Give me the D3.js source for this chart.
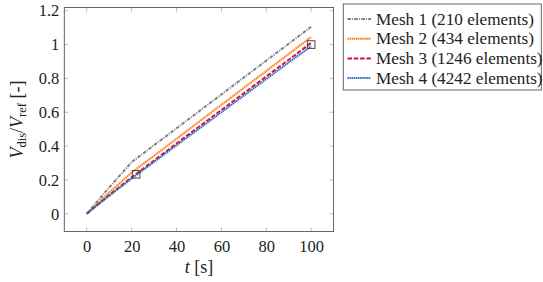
<!DOCTYPE html>
<html><head><meta charset="utf-8">
<script src="https://cdn.jsdelivr.net/npm/d3@7/dist/d3.min.js"></script>
<style>body{margin:0;background:#fff}svg{display:block}
svg text{font-family:"Liberation Serif","Times New Roman",Times,"DejaVu Serif",serif;}
</style>
</head><body><svg id="c" width="543" height="282"></svg>
<script>
const tValues = [0, 10, 20, 30, 40, 50, 60, 70, 80, 90, 100];
const mesh1 = [0, 0.155, 0.305, 0.405, 0.505, 0.605, 0.705, 0.805, 0.905, 1.005, 1.105];
const mesh2 = [0, 0.125, 0.243, 0.343, 0.443, 0.544, 0.644, 0.744, 0.844, 0.944, 1.045];
const mesh3 = [0, 0.11, 0.215, 0.315, 0.415, 0.514, 0.613, 0.712, 0.811, 0.91, 1.01];
const mesh4 = [0, 0.106, 0.208, 0.306, 0.404, 0.502, 0.6, 0.698, 0.796, 0.894, 0.99];
const seriesNames = ["Mesh 1 (210 elements)", "Mesh 2 (434 elements)", "Mesh 3 (1246 elements)", "Mesh 4 (4242 elements)"];
const markerT = [22, 100];
const markerV = [0.233, 1.0];
const xTicks = [0, 20, 40, 60, 80, 100];
const yTicks = [0, 0.2, 0.4, 0.6, 0.8, 1, 1.2];

const styles = [
  {color: "#808080", dash: "3.5,1.2,1,1.2"},
  {color: "#ff7a10", dash: "1.5,0.6"},
  {color: "#d4103c", dash: "4.5,1.8"},
  {color: "#2a6fc0", dash: "1.5,0.6"}
];
const allSeries = [mesh1, mesh2, mesh3, mesh4];

const svg = d3.select("#c");
const L = 64.3, R = 333.6, T = 7.5, B = 231.5;
const x = d3.scaleLinear().domain([-10, 110]).range([L, R]);
const y = d3.scaleLinear().domain([-0.105, 1.219]).range([B, T]);
const font = '"Liberation Serif","Times New Roman",Times,"DejaVu Serif",serif';

const tickLen = 4;
const g = svg.append("g");
xTicks.forEach(v => {
  g.append("line").attr("x1", x(v)).attr("x2", x(v)).attr("y1", B).attr("y2", B - tickLen).attr("stroke", "#aaa").attr("stroke-width", 0.8);
  g.append("line").attr("x1", x(v)).attr("x2", x(v)).attr("y1", T).attr("y2", T + tickLen).attr("stroke", "#aaa").attr("stroke-width", 0.8);
});
yTicks.forEach(v => {
  g.append("line").attr("y1", y(v)).attr("y2", y(v)).attr("x1", L).attr("x2", L + tickLen).attr("stroke", "#aaa").attr("stroke-width", 0.8);
  g.append("line").attr("y1", y(v)).attr("y2", y(v)).attr("x1", R).attr("x2", R - tickLen).attr("stroke", "#aaa").attr("stroke-width", 0.8);
});

const xAxis = svg.append("g").attr("transform", `translate(0,${B})`)
  .call(d3.axisBottom(x).tickValues(xTicks).tickSize(0).tickPadding(9).tickFormat(d3.format("d")));
xAxis.attr("font-family", null).attr("font-size", null);
xAxis.select(".domain").remove();
xAxis.selectAll("text").style("font-family", font).style("font-size", "16.5px").attr("fill", "#222");
const yAxis = svg.append("g").attr("transform", `translate(${L},0)`)
  .call(d3.axisLeft(y).tickValues(yTicks).tickSize(0).tickPadding(5).tickFormat(d => String(+d.toFixed(1))));
yAxis.attr("font-family", null).attr("font-size", null);
yAxis.select(".domain").remove();
yAxis.selectAll("text").style("font-family", font).style("font-size", "16.5px").attr("fill", "#222");

const line = d3.line().x((d, i) => x(tValues[i])).y(d => y(d));
allSeries.forEach((s, k) => {
  svg.append("path").datum(s).attr("d", line).attr("fill", "none")
    .attr("stroke", styles[k].color).attr("stroke-width", 2)
    .attr("stroke-dasharray", styles[k].dash);
});

markerT.forEach((t, i) => {
  svg.append("rect").attr("x", x(t) - 3.8).attr("y", y(markerV[i]) - 3.8).attr("width", 7.6).attr("height", 7.6)
    .attr("fill", "none").attr("stroke", "#333").attr("stroke-width", 0.9);
});

svg.append("rect").attr("x", L).attr("y", T).attr("width", R - L).attr("height", B - T)
  .attr("fill", "none").attr("stroke", "#555").attr("stroke-width", 0.9);

const xt = svg.append("text").attr("x", (L + R) / 2).attr("y", 273).attr("text-anchor", "middle")
  .style("font-family", font).style("font-size", "18px").attr("fill", "#222");
xt.append("tspan").attr("font-style", "italic").text("t");
xt.append("tspan").text(" [s]");

const yt = svg.append("text").attr("transform", `translate(23,${(T + B) / 2}) rotate(-90)`).attr("text-anchor", "middle")
  .style("font-family", font).style("font-size", "18px").attr("fill", "#222");
yt.append("tspan").attr("font-style", "italic").text("V");
yt.append("tspan").style("font-size", "12.5px").attr("dy", 3).text("dis");
yt.append("tspan").attr("dy", -3).text("/");
yt.append("tspan").attr("font-style", "italic").text("V");
yt.append("tspan").style("font-size", "12.5px").attr("dy", 3).text("ref");
yt.append("tspan").attr("dy", -3).text(" [-]");

const lg = svg.append("g");
lg.append("rect").attr("x", 343.3).attr("y", 4).attr("width", 198).attr("height", 86)
  .attr("fill", "#fff").attr("stroke", "#555").attr("stroke-width", 0.9);
seriesNames.forEach((n, k) => {
  const cy = 19 + k * 19.7;
  lg.append("line").attr("x1", 347.5).attr("x2", 371).attr("y1", cy).attr("y2", cy)
    .attr("stroke", styles[k].color).attr("stroke-width", 2).attr("stroke-dasharray", styles[k].dash);
  lg.append("text").attr("x", 376).attr("y", cy + 5.5).style("font-family", font).style("font-size", "17.2px")
    .attr("fill", "#222").text(n);
});
</script></body></html>
